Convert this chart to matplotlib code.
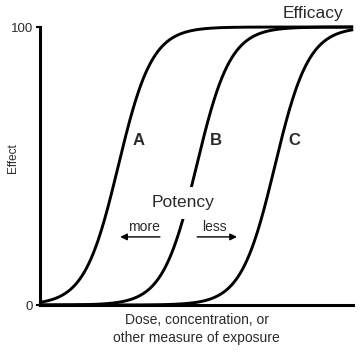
import numpy as np
import matplotlib
matplotlib.use("Agg")
from matplotlib import pyplot as plt

plt.rcParams['font.family'] = ['Liberation Sans', 'DejaVu Sans']

# curve parameters (log-dose units, 0..10)
curve_names = ['A', 'B', 'C']
midpoints = [2.5, 5.0, 7.5]      # dose at 50% effect
slope = 0.54                      # logistic width
label_x = [3.16, 5.62, 8.11]
label_y = 59
ytick_vals = [0, 100]
ytick_labels = ['0', '100']

txt = '#2a2a2a'

fig = plt.figure(figsize=(3.6, 3.54), dpi=100)
ax = fig.add_axes([0.111, 0.1384, 0.870, 0.7853])

x = np.linspace(0, 10, 400)
for m in midpoints:
    y = 100.0 / (1.0 + np.exp(-(x - m) / slope))
    ax.plot(x, y, color='black', lw=2.1, solid_capstyle='butt', clip_on=False, zorder=2)

for name, lx in zip(curve_names, label_x):
    ax.text(lx, label_y, name, ha='center', va='center', fontsize=12,
            fontweight='bold', color=txt)

# white box behind "Potency" hides part of curve B
ax.text(4.57, 36.7, 'Potency', ha='center', va='center', fontsize=12.5, color=txt,
        zorder=3, bbox=dict(boxstyle='square,pad=0.5', fc='white', ec='none'))
ax.text(3.32, 28.2, 'more', ha='center', va='center', fontsize=10, color=txt)
ax.text(5.56, 28.2, 'less', ha='center', va='center', fontsize=10, color=txt)
ax.annotate('', xy=(2.56, 24.5), xytext=(3.83, 24.5),
            arrowprops=dict(arrowstyle='-|>', color='black', lw=1.0,
                            mutation_scale=10, shrinkA=0, shrinkB=0))
ax.annotate('', xy=(6.29, 24.5), xytext=(5.02, 24.5),
            arrowprops=dict(arrowstyle='-|>', color='black', lw=1.0,
                            mutation_scale=10, shrinkA=0, shrinkB=0))
ax.text(8.72, 104.7, 'Efficacy', ha='center', va='center', fontsize=12.5,
        color=txt, clip_on=False)

ax.set_xlim(0, 10)
ax.set_ylim(0, 100)
ax.set_xticks([])
ax.set_yticks(ytick_vals)
ax.set_yticklabels(ytick_labels, fontsize=9.5, color=txt)
ax.tick_params(axis='y', length=3, width=1.5, pad=2)
for s in ['top', 'right']:
    ax.spines[s].set_visible(False)
for s in ['left', 'bottom']:
    ax.spines[s].set_linewidth(2.2)
ax.set_ylabel('Effect', fontsize=8.5, color=txt)
ax.yaxis.set_label_coords(-0.068, 0.53)
ax.set_xlabel('Dose, concentration, or\nother measure of exposure',
              fontsize=10, color=txt, labelpad=6, linespacing=1.3)

fig.savefig('out.png', dpi=100)
